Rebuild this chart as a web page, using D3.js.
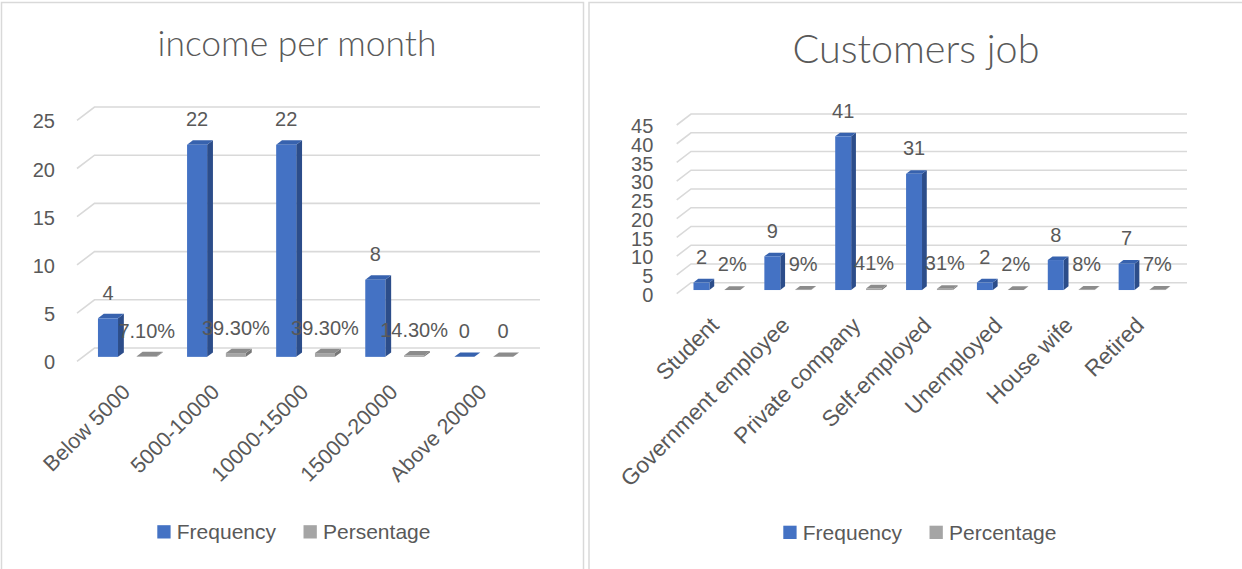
<!DOCTYPE html>
<html><head><meta charset="utf-8">
<script src="https://cdn.jsdelivr.net/npm/d3@7"></script>
<style>
body{margin:0;background:#fff;}
svg{display:block;}
text{font-family:"Liberation Sans",Arial,sans-serif;fill:#595959;}
text.title{font-family:Lato,"Liberation Sans",sans-serif;font-weight:300;}
</style>
</head><body>
<svg id="chart" width="1242" height="569"></svg>
<script>
// ---------------- data ----------------
const seriesNames = ["Frequency", "Percentage"];
const incomeLegend = ["Frequency", "Persentage"];
const jobLegend = ["Frequency", "Percentage"];

const incomeCategories = ["Below 5000", "5000-10000", "10000-15000", "15000-20000", "Above 20000"];
const incomeFrequency = [4, 22, 22, 8, 0];
const incomePercentage = [0.071, 0.393, 0.393, 0.143, 0];
const incomeTicks = [0, 5, 10, 15, 20, 25];

const jobCategories = ["Student", "Government employee", "Private company", "Self-employed", "Unemployed", "House wife", "Retired"];
const jobFrequency = [2, 9, 41, 31, 2, 8, 7];
const jobPercentage = [0.02, 0.09, 0.41, 0.31, 0.02, 0.08, 0.07];
const jobTicks = [0, 5, 10, 15, 20, 25, 30, 35, 40, 45];

const titles = ["income per month", "Customers job"];

// ---------------- style ----------------
const COLORS = {
  Frequency: {front: "#4472C4", side: "#2C4D8A", top: "#3762AE"},
  Percentage: {front: "#A5A5A5", side: "#777777", top: "#8C8C8C"}
};
const legendColors = ["#4472C4", "#A5A5A5"];
const GRID = "#d9d9d9";

const svg = d3.select("#chart");

// panel borders
svg.append("rect").attr("x", 1.5).attr("y", 2.5).attr("width", 582).attr("height", 620)
  .attr("fill", "none").attr("stroke", "#d9d9d9").attr("stroke-width", 1.5);
svg.append("rect").attr("x", 589).attr("y", 2.5).attr("width", 700).attr("height", 620)
  .attr("fill", "none").attr("stroke", "#d9d9d9").attr("stroke-width", 1.5);

function drawChart(cfg) {
  const g = svg.append("g");
  const x = d3.scaleBand().domain(cfg.categories).range([cfg.x0, cfg.x1]).paddingInner(0).paddingOuter(0);
  const sub = d3.scaleBand().domain(seriesNames).range([0, x.bandwidth()]).paddingInner(0.483).paddingOuter(0.39);
  const y = d3.scaleLinear().domain([0, cfg.max]).range([cfg.yBase, cfg.yTop]);
  const P = (xf, v, z) => [xf + z * cfg.DX, y(v) - z * cfg.DY];
  const pts = arr => arr.map(p => p.join(",")).join(" ");

  // gridlines (left wall diagonal + back wall)
  g.append("g").selectAll("polyline").data(cfg.ticks).join("polyline")
    .attr("points", t => pts([P(cfg.x0, t, 0), P(cfg.x0, t, 1), P(cfg.x1, t, 1)]))
    .attr("fill", "none").attr("stroke", GRID).attr("stroke-width", 1.6);

  // value axis
  const ya = g.append("g").attr("transform", `translate(${cfg.x0},0)`)
    .call(d3.axisLeft(y).tickValues(cfg.ticks).tickSize(0).tickPadding(cfg.tickPad).tickFormat(d3.format("d")));
  ya.attr("font-size", null).attr("font-family", null);
  ya.select(".domain").remove();
  ya.selectAll("text").style("font-size", cfg.tickFont + "px").attr("dy", "0.38em");

  // category axis
  const xa = g.append("g").attr("transform", `translate(0,${cfg.yBase})`)
    .call(d3.axisBottom(x).tickSize(0));
  xa.attr("font-size", null).attr("font-family", null);
  xa.select(".domain").remove();
  xa.selectAll("text").attr("y", 0).attr("dy", 0)
    .attr("transform", `translate(${cfg.labDx},${cfg.labDy}) rotate(-45)`)
    .style("text-anchor", "end").style("font-size", cfg.catFont + "px");

  // bars
  const data = [];
  cfg.categories.forEach((c, i) => {
    cfg.series.forEach(s => {
      data.push({cat: c, name: s.name, v: s.values[i], label: s.fmt(s.values[i])});
    });
  });
  const z0 = 1 / 3, z1 = 2 / 3;
  const bars = g.append("g").selectAll("g").data(data).join("g");
  bars.each(function (d) {
    const a = x(d.cat) + sub(d.name), w = sub.bandwidth();
    const b = d3.select(this);
    const col = COLORS[d.name];
    b.append("polygon").attr("points", pts([P(a + w, 0, z0), P(a + w, d.v, z0), P(a + w, d.v, z1), P(a + w, 0, z1)]))
      .attr("fill", col.side);
    b.append("polygon").attr("points", pts([P(a, d.v, z0), P(a + w, d.v, z0), P(a + w, d.v, z1), P(a, d.v, z1)]))
      .attr("fill", col.top);
    const tl = P(a, d.v, z0), br = P(a + w, 0, z0);
    b.append("rect").attr("x", tl[0]).attr("y", tl[1]).attr("width", br[0] - tl[0]).attr("height", Math.max(0, br[1] - tl[1]))
      .attr("fill", col.front);
  });
  // data labels
  g.append("g").selectAll("text").data(data).join("text")
    .attr("x", d => P(x(d.cat) + sub(d.name) + sub.bandwidth() / 2, d.v, z0)[0])
    .attr("y", d => P(0, d.v, z0)[1] - 18.5)
    .attr("text-anchor", "middle")
    .style("font-size", cfg.labelFont + "px")
    .text(d => d.label);

  // title (fitted to the reference width)
  const tt = g.append("text").attr("class", "title").attr("x", cfg.titleX).attr("y", cfg.titleY)
    .attr("text-anchor", "middle").style("font-size", "30px").text(cfg.title);
  const tw = tt.node().getComputedTextLength();
  tt.style("font-size", (30 * cfg.titleWidth / tw) + "px");

  // legend
  const lg = g.append("g");
  let lx = cfg.legendX;
  cfg.legend.forEach((name, i) => {
    lg.append("rect").attr("x", lx).attr("y", cfg.legendY - 13.3).attr("width", 13.3).attr("height", 13.3)
      .attr("fill", legendColors[i]);
    const t = lg.append("text").attr("x", lx + 19.5).attr("y", cfg.legendY + 0.5)
      .style("font-size", cfg.legendFont + "px").text(name);
    lx = lx + 19.5 + t.node().getComputedTextLength() + 27.5;
  });
}

const fmtInt = d3.format("d");
drawChart({
  title: titles[0], titleX: 297, titleY: 56, titleWidth: 279,
  categories: incomeCategories,
  series: [
    {name: "Frequency", values: incomeFrequency, fmt: fmtInt},
    {name: "Percentage", values: incomePercentage, fmt: v => v === 0 ? "0" : d3.format(".2%")(v)}
  ],
  ticks: incomeTicks, max: 25,
  x0: 77, x1: 522.5, DX: 17.5, DY: 13.3, yBase: 361.3, yTop: 120.3,
  tickPad: 22, tickFont: 20, catFont: 21.5, labelFont: 20,
  labDx: 10, labDy: 32,
  legend: incomeLegend, legendX: 157.3, legendY: 538.5, legendFont: 21
});

drawChart({
  title: titles[1], titleX: 916, titleY: 63, titleWidth: 247,
  categories: jobCategories,
  series: [
    {name: "Frequency", values: jobFrequency, fmt: fmtInt},
    {name: "Percentage", values: jobPercentage, fmt: d3.format(".0%")}
  ],
  ticks: jobTicks, max: 45,
  x0: 676.7, x1: 1172.7, DX: 14.3, DY: 11, yBase: 293.7, yTop: 125,
  tickPad: 23.4, tickFont: 20, catFont: 22.5, labelFont: 20,
  labDx: 8, labDy: 33,
  legend: jobLegend, legendX: 783.3, legendY: 539, legendFont: 21
});
</script>
</body></html>
